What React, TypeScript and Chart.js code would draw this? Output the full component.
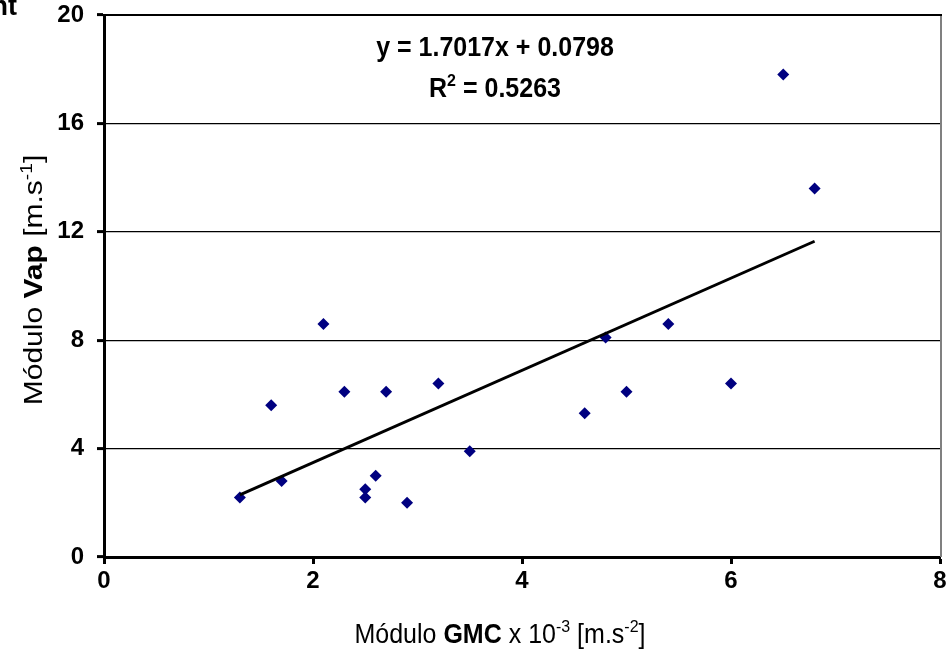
import React, { useEffect, useRef } from "react";
import { Chart, registerables } from "chart.js";

Chart.register(...registerables);

const gmcValues = [1.3, 1.7, 1.6, 2.1, 2.3, 2.5, 2.5, 2.6, 2.7, 2.9, 3.2, 3.5, 4.6, 4.8, 5.0, 5.4, 6.0, 6.5, 6.8];
const vapValues = [2.2, 2.8, 5.6, 8.6, 6.1, 2.5, 2.2, 3.0, 6.1, 2.0, 6.4, 3.9, 5.3, 8.1, 6.1, 8.6, 6.4, 17.8, 13.6];
const xTicks = [0, 2, 4, 6, 8];
const yTicks = [0, 4, 8, 12, 16, 20];
const slope = 1.7017;
const intercept = 0.0798;
const rSquared = 0.5263;

const FONT = "'Liberation Sans', Arial, sans-serif";

type Part = { t: string; bold?: boolean; sup?: boolean };

function drawMixed(ctx: CanvasRenderingContext2D, parts: Part[], size: number, cx: number, cy: number, stretch = 1, vstretch = 1) {
  const fontFor = (p: Part) => `${p.bold ? "bold " : ""}${p.sup ? Math.round(size * 0.62) : size}px ${FONT}`;
  let total = 0;
  for (const p of parts) {
    ctx.font = fontFor(p);
    total += ctx.measureText(p.t).width;
  }
  ctx.save();
  ctx.translate(cx, cy);
  ctx.scale(stretch, vstretch);
  let x = -total / 2;
  ctx.textBaseline = "alphabetic";
  ctx.textAlign = "left";
  for (const p of parts) {
    ctx.font = fontFor(p);
    ctx.fillText(p.t, x, p.sup ? -size * 0.42 : 0);
    x += ctx.measureText(p.t).width;
  }
  ctx.restore();
}

const annotationPlugin = {
  id: "annot",
  afterDraw(chart: any) {
    const ctx: CanvasRenderingContext2D = chart.ctx;
    const area = chart.chartArea;
    ctx.save();
    ctx.fillStyle = "#000";
    // right border
    ctx.strokeStyle = "#808080";
    ctx.lineWidth = 2;
    ctx.beginPath();
    ctx.moveTo(area.right + 1, area.top - 1);
    ctx.lineTo(area.right + 1, area.bottom);
    ctx.stroke();
    // top border line
    ctx.strokeStyle = "#000";
    ctx.lineWidth = 2;
    ctx.beginPath();
    ctx.moveTo(area.left, area.top);
    ctx.lineTo(area.right + 2, area.top);
    ctx.stroke();
    // cropped title remnant
    ctx.font = `bold 27px ${FONT}`;
    ctx.textAlign = "right";
    ctx.textBaseline = "alphabetic";
    ctx.fillText("nt", 17, 15);
    // equation
    drawMixed(ctx, [{ t: `y = ${slope.toFixed(4)}x + ${intercept.toFixed(4)}`, bold: true }], 25, 495, 56, 1, 1.08);
    drawMixed(ctx, [{ t: "R", bold: true }, { t: "2", bold: true, sup: true }, { t: ` = ${rSquared.toFixed(4)}`, bold: true }], 25, 495, 97, 1, 1.08);
    // x title
    drawMixed(
      ctx,
      [
        { t: "Módulo " },
        { t: "GMC", bold: true },
        { t: " x 10" },
        { t: "-3", sup: true },
        { t: " [m.s" },
        { t: "-2", sup: true },
        { t: "]" },
      ],
      25,
      500,
      643,
      1,
      1.08
    );
    // y title
    ctx.save();
    ctx.translate(42, 280);
    ctx.rotate(-Math.PI / 2);
    drawMixed(
      ctx,
      [{ t: "Módulo " }, { t: "Vap", bold: true }, { t: " [m.s" }, { t: "-1", sup: true }, { t: "]" }],
      25,
      0,
      0,
      1.2
    );
    ctx.restore();
    ctx.restore();
  },
};

export default function App() {
  const ref = useRef<HTMLCanvasElement | null>(null);
  useEffect(() => {
    document.body.style.margin = "0";
    const canvas = ref.current!;
    const points = gmcValues.map((x, i) => ({ x, y: vapValues[i] }));
    const xMin = Math.min(...gmcValues);
    const xMax = Math.max(...gmcValues);
    const trend = [
      { x: xMin, y: slope * xMin + intercept },
      { x: xMax, y: slope * xMax + intercept },
    ];
    const chart = new Chart(canvas, {
      type: "scatter",
      data: {
        datasets: [
          {
            type: "line",
            data: trend,
            borderColor: "#000",
            borderWidth: 3,
            pointRadius: 0,
            fill: false,
          } as any,
          {
            data: points,
            pointStyle: "rectRot",
            pointRadius: 6,
            backgroundColor: "#000080",
            borderColor: "#000080",
            borderWidth: 0,
          },
        ],
      },
      options: {
        animation: false,
        responsive: false,
        maintainAspectRatio: false,
        layout: { padding: { left: 0, right: 8, top: 15, bottom: 0 } },
        plugins: { legend: { display: false }, tooltip: { enabled: false } },
        scales: {
          x: {
            type: "linear",
            min: 0,
            max: 8,
            afterBuildTicks: (s: any) => {
              s.ticks = xTicks.map((v) => ({ value: v }));
            },
            afterFit: (s: any) => {
              s.height = 93;
              s.paddingLeft = 0;
              s.paddingRight = 0;
            },
            border: { display: true, color: "#000", width: 3 },
            grid: { drawOnChartArea: false, drawTicks: true, tickLength: 7, tickColor: "#000", tickWidth: 3 },
            ticks: { color: "#000", font: { family: FONT, size: 24, weight: "bold" }, padding: 3, maxRotation: 0 },
          },
          y: {
            type: "linear",
            min: 0,
            max: 20,
            afterBuildTicks: (s: any) => {
              s.ticks = yTicks.map((v) => ({ value: v }));
            },
            afterFit: (s: any) => {
              s.width = 104;
              s.paddingTop = 0;
              s.paddingBottom = 0;
            },
            border: { display: true, color: "#000", width: 3 },
            grid: { color: "#000", lineWidth: 1.2, drawTicks: true, tickLength: 7, tickColor: "#000", tickWidth: 3 },
            ticks: { color: "#000", font: { family: FONT, size: 24, weight: "bold" }, padding: 13 },
          },
        },
      },
      plugins: [annotationPlugin],
    });
    return () => chart.destroy();
  }, []);
  return (
    <div style={{ position: "absolute", left: 0, top: 0, width: 948, height: 650, background: "#fff" }}>
      <canvas ref={ref} width={948} height={650} style={{ width: 948, height: 650, display: "block" }} />
    </div>
  );
}
